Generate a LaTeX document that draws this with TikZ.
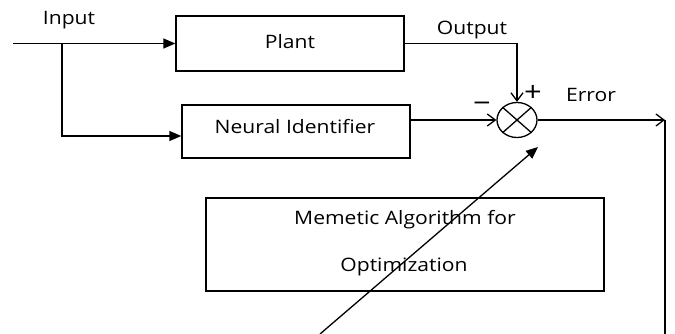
\documentclass[tikz,border=0pt]{standalone}
\usepackage{fontspec}
\setmainfont{Open Sans}[FakeStretch=1.14]
\usetikzlibrary{arrows.meta,shapes.geometric}
\begin{document}
\begin{tikzpicture}[x=1pt,y=-1pt,
  box/.style={draw,line width=1.3pt,rectangle,inner sep=0pt},
  lbl/.style={font=\fontsize{18.5}{20}\selectfont,inner sep=0pt},
  sign/.style={font=\fontsize{27}{29}\selectfont,inner sep=0pt},
  line/.style={line width=1.3pt},
  fillarrow/.style={line,-{Triangle[length=12pt,width=10pt]}},
  openarrow/.style={line,-{Straight Barb[length=8pt,width=12pt,line width=1.3pt]}}]
\useasboundingbox (0,0) rectangle (675,334);
\node[box,minimum width=228pt,minimum height=55pt] (plant) at (290,43.5) {};
\node[lbl] (plantt) at (290,42) {Plant};
\node[box,minimum width=228pt,minimum height=53pt] (ni) at (296,131.5) {};
\node[lbl] (nit) at (295,127) {Neural Identifier};
\node[draw,line width=1.3pt,ellipse,minimum width=40pt,minimum height=35pt,inner sep=0pt] (sum) at (517,120) {};
\draw[line] (sum.north west) -- (sum.south east) (sum.south west) -- (sum.north east);
\node[box,minimum width=398pt,minimum height=93pt] (mem) at (405,244.5) {};
\node[lbl] (memt1) at (405,220) {Memetic Algorithm for};
\node[lbl] (memt2) at (404,267) {Optimization};
\node[lbl] (input) at (69,20) {Input};
\node[lbl] (output) at (472,30) {Output};
\node[lbl] (error) at (591,95) {Error};
\node[sign] (plus) at (533,93) {+};
\node[sign] (minus) at (482,107) {−};
\coordinate (in) at (13,43.5);
\coordinate (br) at (62,43.5);
\coordinate (oc) at (517,43.5);
\coordinate (ec) at (665,120);
\coordinate (eb) at (665,334);
\coordinate (ds) at (320,334);
\coordinate (de) at (538,147);
\draw[fillarrow] (in) -- (plant.west);
\draw[fillarrow] (br) |- ([yshift=-4.5pt]ni.west);
\draw[openarrow] (plant.east) -- (oc) -- (sum.north);
\draw[openarrow] ([yshift=11.5pt]ni.east) -- (sum.west);
\draw[openarrow] (sum.east) -- (ec);
\draw[line] (ec) -- (eb);
\draw[fillarrow] (ds) -- (de);
\end{tikzpicture}
\end{document}
